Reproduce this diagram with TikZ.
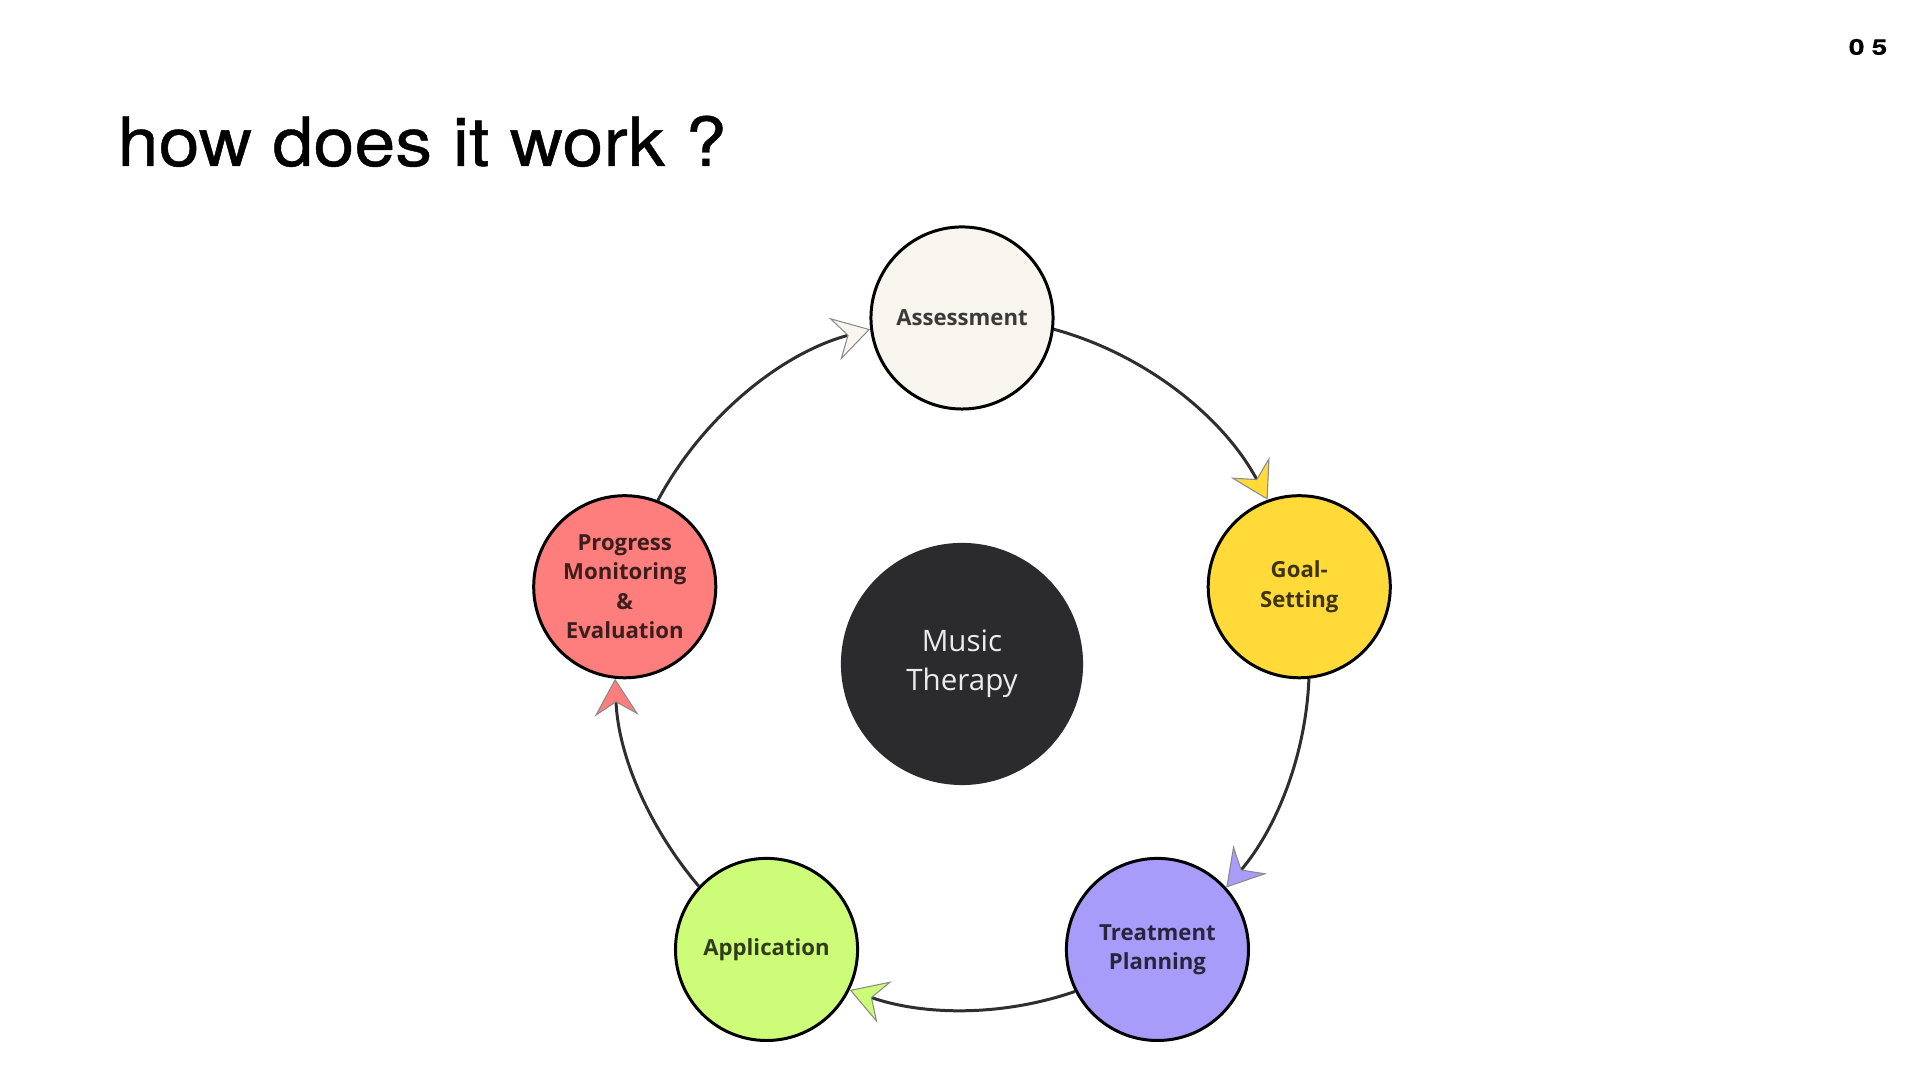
\documentclass[tikz,border=0pt]{standalone}
\usepackage{fontspec}
\setmainfont{Open Sans}
\newfontfamily\titlefont[FakeBold=0.6]{TeX Gyre Heros}
\newfontfamily\pgfont[FakeBold=0.5]{TeX Gyre Heros}
\usetikzlibrary{arrows.meta}
\definecolor{cream}{HTML}{F8F5EE}
\definecolor{goal}{HTML}{FFDA38}
\definecolor{treat}{HTML}{A79CFA}
\definecolor{appl}{HTML}{CDFD78}
\definecolor{prog}{HTML}{FE7E7D}
\definecolor{core}{HTML}{2B2B2E}
\definecolor{linegray}{HTML}{2E2E30}
\definecolor{tipline}{HTML}{8A8A8A}
\begin{document}
\begin{tikzpicture}[x=0.01cm,y=0.01cm,
  stage/.style={circle, draw=black, line width=0.85pt, minimum size=1.82cm, inner sep=0pt,
    align=center, font=\fontsize{6.3}{8.3}\selectfont\bfseries, text=black, text opacity=0.76},
  conn/.style={line width=0.85pt, draw=linegray, looseness=0.88},
  tipto/.style={-{Stealth[length=10.5pt, width=12.5pt, inset=3.8pt, line width=0.3pt, color=tipline, fill=#1]}}
]
\useasboundingbox (0,0) rectangle (1920,1080);
\fill[white] (0,0) rectangle (1920,1080);

\node[anchor=base west, inner sep=0pt, font=\titlefont\fontsize{19.3}{22}\selectfont] (title) at (117,914) {\scalebox{1.085}[1]{how does it work ?}};
\node[inner sep=0pt, font=\pgfont\bfseries\fontsize{6.2}{7}\selectfont] (pg) at (1868,1033) {\scalebox{1.28}[1]{0\hspace{1.6pt}5}};

\coordinate (O) at (962,416);
\node[circle, fill=core, minimum size=2.42cm, inner sep=0pt, align=center,
  font=\fontsize{8.4}{11}\selectfont, text=white!92!black] (MT) at (O) {Music\\Therapy};

\node[stage, fill=cream] (A) at ([shift={(90:346)}]O) {Assessment};
\node[stage, fill=goal] (G) at ([shift={(12.9:346)}]O) {Goal-\\Setting};
\node[stage, fill=treat] (T) at ([shift={(-55.6:346)}]O) {Treatment\\Planning};
\node[stage, fill=appl] (Ap) at ([shift={(-124.4:346)}]O) {Application};
\node[stage, fill=prog] (P) at ([shift={(167.1:346)}]O) {Progress\\Monitoring\\\&\\Evaluation};

\draw[conn, tipto=goal] (A.-7.64) to[out=-15.28, in=118.18] (G.110.54);
\draw[conn, tipto=treat] (G.-84.74) to[out=-92.38, in=49.68] (T.42.04);
\draw[conn, tipto=appl] (T.-153.24) to[out=-160.88, in=-19.12] (Ap.-26.76);
\draw[conn, tipto=prog] (Ap.137.96) to[out=130.32, in=272.38] (P.264.74);
\draw[conn, tipto=cream] (P.69.46) to[out=61.82, in=195.28] (A.187.64);
\end{tikzpicture}
\end{document}
